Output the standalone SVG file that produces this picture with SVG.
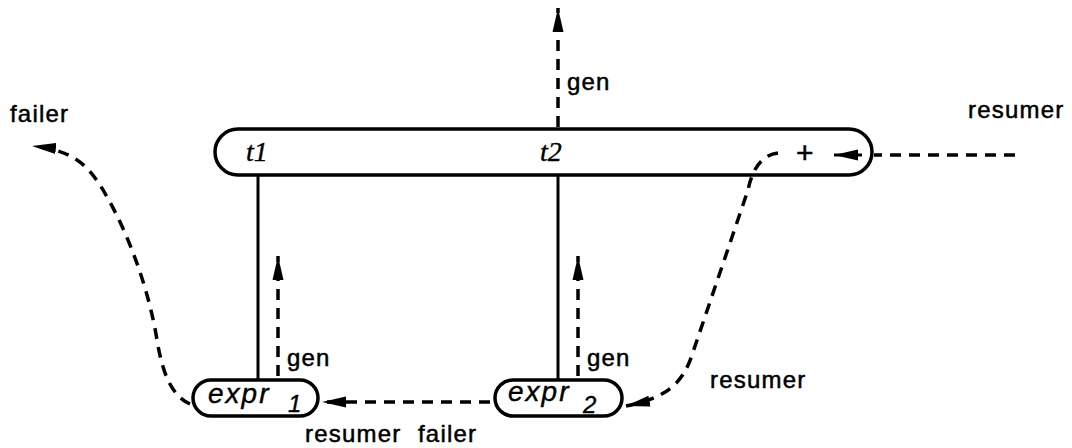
<svg xmlns="http://www.w3.org/2000/svg" width="1072" height="448" viewBox="0 0 1072 448">
<defs>
<marker id="ah" markerUnits="userSpaceOnUse" markerWidth="26" markerHeight="14" viewBox="0 0 26 14" refX="24" refY="7" orient="auto">
<path d="M0,1.5 L24,7 L0,12.5 Z" fill="#000"/>
</marker>
<style>
.pill{fill:#fff;stroke:#000;stroke-width:3.5}
.solid{fill:none;stroke:#000;stroke-width:3}
.dash{fill:none;stroke:#000;stroke-width:3.5;stroke-dasharray:11 8}
.arr{marker-end:url(#ah)}
.lbl{font-family:"Liberation Sans",Arial,sans-serif;font-size:24px;fill:#000;stroke:#000;stroke-width:0.5;letter-spacing:1.2px}
.it{font-family:"Liberation Sans",Arial,sans-serif;font-style:italic;font-size:28px;fill:#000;stroke:#000;stroke-width:0.4;letter-spacing:2px}
.sub{font-size:24px}
.plus{font-size:30px;letter-spacing:0}
.ser{font-family:"Liberation Serif","Times New Roman",serif;font-style:italic;font-size:28px;fill:#000;stroke:#000;stroke-width:0.4}
</style>
</defs>
<rect width="1072" height="448" fill="#fff"/>
<g id="node-top">
<rect class="pill" x="215" y="129" width="657" height="46" rx="23"/>
<text class="ser" x="246" y="161">t1</text>
<text class="ser" x="540" y="161">t2</text>
<text class="lbl plus" x="796" y="163">+</text>
</g>
<g id="node-expr1">
<rect class="pill" x="193" y="380" width="125" height="36" rx="18"/>
<text class="it" x="208" y="403">expr</text>
<text class="it sub" x="288" y="412">1</text>
</g>
<g id="node-expr2">
<rect class="pill" x="495" y="380" width="127" height="36" rx="18"/>
<text class="it" x="508" y="401">expr</text>
<text class="it sub" x="583" y="413">2</text>
</g>
<g id="connectors">
<line class="solid" x1="258" y1="175" x2="258" y2="380"/>
<line class="solid" x1="558" y1="175" x2="558" y2="380"/>
<path class="dash arr" d="M558,127 L558,8"/>
<path class="dash arr" d="M278,376 L278,256"/>
<path class="dash arr" d="M578,376 L578,256"/>
<path class="dash arr" d="M490,402 L322,402"/>
<path class="dash" d="M1015,155 L874,155"/>
<path class="arr" d="M862,155 L834,155" stroke="#000" stroke-width="3" fill="none"/>
<path class="dash arr" d="M190,404 C170,395 162,370 157,340 C149,290 128,230 100,185 C85,162 70,150 32,146"/>
<path class="dash arr" d="M778,153 C761,155 752,170 748,190 L692,355 C682,385 665,398 626,406"/>
</g>
<g id="labels">
<text class="lbl" x="10" y="122">failer</text>
<text class="lbl" x="567" y="90">gen</text>
<text class="lbl" x="968" y="118">resumer</text>
<text class="lbl" x="287" y="366">gen</text>
<text class="lbl" x="587" y="366">gen</text>
<text class="lbl" x="710" y="388">resumer</text>
<text class="lbl" x="305" y="442">resumer</text>
<text class="lbl" x="418" y="442">failer</text>
</g>
</svg>
